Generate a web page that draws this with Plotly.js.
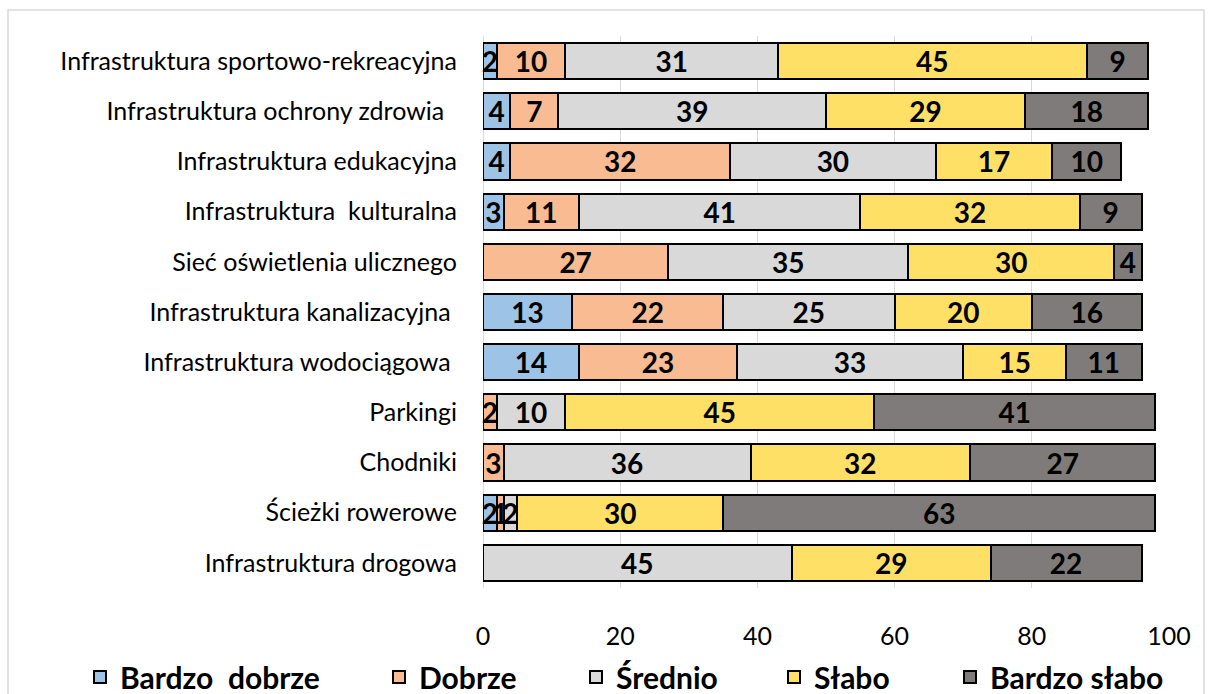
<!DOCTYPE html>
<html>
<head>
<meta charset="utf-8">
<script src="https://cdn.plot.ly/plotly-3.0.1.min.js"></script>
<style>html,body{margin:0;padding:0;background:#fff;}#chart{width:1210px;height:694px;}</style>
</head>
<body>
<div id="chart"></div>
<script>
// ---- data ----
const categories = [
  "Infrastruktura sportowo-rekreacyjna",
  "Infrastruktura ochrony zdrowia\u00a0\u00a0",
  "Infrastruktura edukacyjna",
  "Infrastruktura \u00a0kulturalna",
  "Sieć oświetlenia ulicznego",
  "Infrastruktura kanalizacyjna\u00a0",
  "Infrastruktura wodociągowa\u00a0",
  "Parkingi",
  "Chodniki",
  "Ścieżki rowerowe",
  "Infrastruktura drogowa"
];
const seriesNames = ["Bardzo  dobrze", "Dobrze", "Średnio", "Słabo", "Bardzo słabo"];
const bardzoDobrze = [2, 4, 4, 3, 0, 13, 14, 0, 0, 2, 0];
const dobrze       = [10, 7, 32, 11, 27, 22, 23, 2, 3, 1, 0];
const srednio      = [31, 39, 30, 41, 35, 25, 33, 10, 36, 2, 45];
const slabo        = [45, 29, 17, 32, 30, 20, 15, 45, 32, 30, 29];
const bardzoSlabo  = [9, 18, 10, 9, 4, 16, 11, 41, 27, 63, 22];
const xTicks = [0, 20, 40, 60, 80, 100];

const colors = ["#9DC3E6", "#F8BB92", "#D9D9D9", "#FFE066", "#7F7B7A"];
const allSeries = [bardzoDobrze, dobrze, srednio, slabo, bardzoSlabo];

// ---- geometry helpers (pixels -> paper) ----
const W = 1210, H = 694;
const mL = 483, mR = 41, mT = 36, mB = 106;
const pw = W - mL - mR, ph = H - mT - mB;
const px = x => (x - mL) / pw;
const py = y => (H - mB - y) / ph;

const legendTextStart = [118, 417, 614, 812, 988];
const legendNames = ["legend", "legend2", "legend3", "legend4", "legend5"];
const FONT = "Lato, 'DejaVu Sans', sans-serif";

const traces = allSeries.map((vals, i) => ({
  type: "bar",
  orientation: "h",
  name: seriesNames[i],
  y: categories,
  x: vals,
  text: vals.map(v => v === 0 ? "" : String(v)),
  textposition: "inside",
  insidetextanchor: "middle",
  constraintext: "none",
  textangle: 0,
  cliponaxis: false,
  textfont: {family: FONT, size: 28, color: "#000", weight: "bold"},
  marker: {color: colors[i], line: {color: "#000", width: 2}},
  legend: legendNames[i],
  showlegend: true,
  hoverinfo: "name+x+y"
}));

const layout = {
  width: W, height: H,
  margin: {l: mL, r: mR, t: mT, b: mB, pad: 0, autoexpand: false},
  paper_bgcolor: "#fff",
  plot_bgcolor: "#fff",
  showlegend: true,
  barmode: "stack",
  bargap: 0.28,
  font: {family: FONT, color: "#000"},
  xaxis: {
    range: [0, 100],
    tickvals: xTicks,
    ticktext: xTicks.map(String),
    showgrid: true, gridcolor: "#D9D9D9", gridwidth: 1,
    zeroline: true, zerolinecolor: "#D9D9D9", zerolinewidth: 1,
    showline: false,
    ticks: "outside", ticklen: 26, tickcolor: "rgba(0,0,0,0)",
    tickfont: {size: 25, color: "#000"},
    automargin: false,
    fixedrange: true
  },
  yaxis: {
    autorange: "reversed",
    showgrid: false, zeroline: false, showline: false,
    ticks: "outside", ticklen: 20, tickcolor: "rgba(0,0,0,0)",
    tickfont: {size: 25, color: "#000"},
    automargin: false,
    fixedrange: true
  },
  shapes: [{
    type: "rect", xref: "paper", yref: "paper",
    x0: px(8), x1: px(1204), y0: py(700), y1: py(10),
    line: {color: "#D9D9D9", width: 1.5}, fillcolor: "rgba(0,0,0,0)", layer: "below"
  }]
};

legendNames.forEach((ln, i) => {
  layout[ln] = {
    orientation: "h",
    x: px(legendTextStart[i] - 38), xanchor: "left",
    y: py(677), yanchor: "middle",
    bgcolor: "rgba(0,0,0,0)", borderwidth: 0,
    font: {size: 30, color: "#000", weight: "bold", family: FONT},
    itemclick: false, itemdoubleclick: false
  };
});

Plotly.newPlot("chart", traces, layout, {displayModeBar: false, staticPlot: true});
</script>
</body>
</html>
